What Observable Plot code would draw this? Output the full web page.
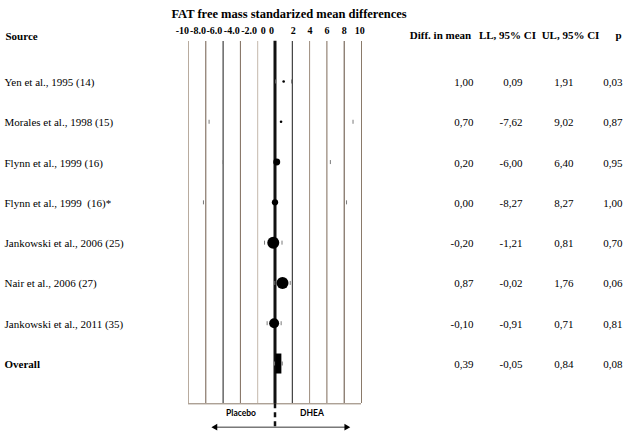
<!DOCTYPE html>
<html>
<head>
<meta charset="utf-8">
<script src="https://cdn.jsdelivr.net/npm/d3@7"></script>
<script src="https://cdn.jsdelivr.net/npm/@observablehq/plot@0.6"></script>
<style>
  html, body { margin: 0; padding: 0; background: #fff; }
</style>
</head>
<body>
<div id="chart"></div>
<script>
// ---- data ----
const sources = [
  "Yen et al., 1995 (14)",
  "Morales et al., 1998 (15)",
  "Flynn et al., 1999 (16)",
  "Flynn et al., 1999\u00a0 (16)*",
  "Jankowski et al., 2006 (25)",
  "Nair et al., 2006 (27)",
  "Jankowski et al., 2011 (35)",
  "Overall"
];
const diffInMean = [1.00, 0.70, 0.20, 0.00, -0.20, 0.87, -0.10, 0.39];
const lowerCI    = [0.09, -7.62, -6.00, -8.27, -1.21, -0.02, -0.91, -0.05];
const upperCI    = [1.91, 9.02, 6.40, 8.27, 0.81, 1.76, 0.71, 0.84];
const pValues    = [0.03, 0.87, 0.95, 1.00, 0.70, 0.06, 0.81, 0.08];
const studyWeight = [1.7, 1.7, 12, 10, 36, 36, 25, null];

const gridValues = [-10, -8, -6, -4, -2, 2, 4, 6, 8, 10];
const tickLabels = ["-10", "-8.0", "-6.0", "-4.0", "-2.0", "0", "0", "2", "4", "6", "8", "10"];
const tickLabelAt = [-10.7, -8.9, -7.0, -5.0, -3.0, -1.35, -0.4, 2.1, 4.05, 6.0, 8.0, 9.8];

const title = "FAT free mass standarized mean differences";
const columnHeaders = ["Diff. in mean", "LL, 95% CI", "UL, 95% CI", "p"];
const sideLabels = ["Placebo", "DHEA"];

// ---- styles (not data) ----
const gridColors = ["#b8ab9e", "#6e5a4a", "#1a1a1a", "#7d6a5a", "#c4b8ac",
                    "#1a1a1a", "#9c8c7c", "#7d6a5a", "#5e4a3a", "#8a7a6a"];
const serif = "Liberation Serif, Times New Roman, serif";

const fmt = v => v.toFixed(2).replace(".", ",");

const rows = sources.map((s, i) => ({
  source: s, row: i + 1, diff: diffInMean[i], lower: lowerCI[i],
  upper: upperCI[i], p: pValues[i], weight: studyWeight[i]
}));
const studies = rows.slice(0, 7);
const overall = rows.slice(7);

const tickSymbol = { draw(ctx) { ctx.moveTo(0, -2); ctx.lineTo(0, 2); } };
const diamondSymbol = { draw(ctx) { ctx.rect(-3, -10, 6, 20); } };

const W = 627, H = 437;
const frameRight = 361;
const txt = { fontFamily: serif, lineAnchor: "middle" };

const chart = Plot.plot({
  width: W,
  height: H,
  marginLeft: 188,
  marginRight: W - frameRight,
  marginTop: 41,
  marginBottom: 34,
  style: { fontFamily: serif, fontSize: "11px", background: "#fff", color: "#000" },
  x: { domain: [-10, 10], axis: null },
  y: { type: "linear", domain: [0, 9], range: [40.7, 403.3], axis: null },
  r: { type: "sqrt", domain: [0, 36], range: [0, 6] },
  color: { type: "identity" },
  marks: [
    // grid / frame
    Plot.ruleX(gridValues, { x: d => d, stroke: (d, i) => gridColors[i], strokeWidth: 1 }),
    Plot.ruleY([9], { x1: -10, x2: 10, stroke: "#8a7a6a", strokeWidth: 1 }),
    Plot.ruleX([0], { y1: 0, y2: 9, stroke: "#111", strokeWidth: 3 }),
    Plot.ruleX([0], { y1: 9, y2: 9.63, stroke: "#111", strokeWidth: 2.5, strokeDasharray: "5,4" }),

    // CI end ticks
    Plot.dot(rows, { x: "lower", y: "row", symbol: tickSymbol, r: 2, fill: "none", stroke: "#7a7a7a", strokeWidth: 1 }),
    Plot.dot(rows, { x: "upper", y: "row", symbol: tickSymbol, r: 2, fill: "none", stroke: "#7a7a7a", strokeWidth: 1 }),

    // study estimates
    Plot.dot(studies, { x: "diff", y: "row", r: "weight", fill: "#000", stroke: "none" }),
    // overall
    Plot.dot(overall, { x: "diff", y: "row", symbol: diamondSymbol, r: 3, fill: "#000", stroke: "none" }),

    // title and tick labels
    Plot.text([title], { ...txt, frameAnchor: "top", dx: 14, dy: -28, fontWeight: "bold", fontSize: 12.5 }),
    Plot.text(tickLabels, { ...txt, x: (d, i) => tickLabelAt[i], frameAnchor: "top", dy: -11, text: d => d, fontWeight: "bold", fontSize: 10 }),

    // left column
    Plot.text(["Source"], { ...txt, frameAnchor: "top-left", dx: -183, dy: -5, textAnchor: "start", fontWeight: "bold", fontSize: 11 }),
    Plot.text(studies, { ...txt, y: "row", text: "source", frameAnchor: "left", dx: -184, dy: 1, textAnchor: "start", fontSize: 11 }),
    Plot.text(overall, { ...txt, y: "row", text: "source", frameAnchor: "left", dx: -184, dy: 1, textAnchor: "start", fontWeight: "bold", fontSize: 11 }),

    // right columns headers
    Plot.text([columnHeaders[0]], { ...txt, frameAnchor: "top-right", dx: 79, dy: -6, textAnchor: "middle", fontWeight: "bold", fontSize: 11 }),
    Plot.text([columnHeaders[1]], { ...txt, frameAnchor: "top-right", dx: 146, dy: -6, textAnchor: "middle", fontWeight: "bold", fontSize: 11 }),
    Plot.text([columnHeaders[2]], { ...txt, frameAnchor: "top-right", dx: 209, dy: -6, textAnchor: "middle", fontWeight: "bold", fontSize: 11 }),
    Plot.text([columnHeaders[3]], { ...txt, frameAnchor: "top-right", dx: 257, dy: -6, textAnchor: "middle", fontWeight: "bold", fontSize: 11 }),

    // right columns values
    Plot.text(rows, { ...txt, y: "row", text: d => fmt(d.diff), frameAnchor: "right", dx: 112, dy: 1, textAnchor: "end", fontSize: 11 }),
    Plot.text(rows, { ...txt, y: "row", text: d => fmt(d.lower), frameAnchor: "right", dx: 161, dy: 1, textAnchor: "end", fontSize: 11 }),
    Plot.text(rows, { ...txt, y: "row", text: d => fmt(d.upper), frameAnchor: "right", dx: 212, dy: 1, textAnchor: "end", fontSize: 11 }),
    Plot.text(rows, { ...txt, y: "row", text: d => fmt(d.p), frameAnchor: "right", dx: 261, dy: 1, textAnchor: "end", fontSize: 11 }),

    // favours labels and arrows
    Plot.text([sideLabels[0]], { frameAnchor: "bottom", lineAnchor: "middle", dx: -34, dy: 10, fontWeight: "bold", fontSize: 8.5, fontFamily: "Lato" }),
    Plot.text([sideLabels[1]], { frameAnchor: "bottom", lineAnchor: "middle", dx: 37, dy: 10, fontWeight: "bold", fontSize: 8.5, fontFamily: "Lato" }),
    Plot.ruleY([9.58], { x1: -6.9, x2: 8.25, stroke: "#000", strokeWidth: 0.8 }),
    Plot.dot([-6.9], { x: d => d, y: 9.58, symbol: "triangle", rotate: -90, r: 2.5, fill: "#000", stroke: "none" }),
    Plot.dot([8.25], { x: d => d, y: 9.58, symbol: "triangle", rotate: 90, r: 2.5, fill: "#000", stroke: "none" })
  ]
});

document.getElementById("chart").appendChild(chart);
</script>
</body>
</html>
